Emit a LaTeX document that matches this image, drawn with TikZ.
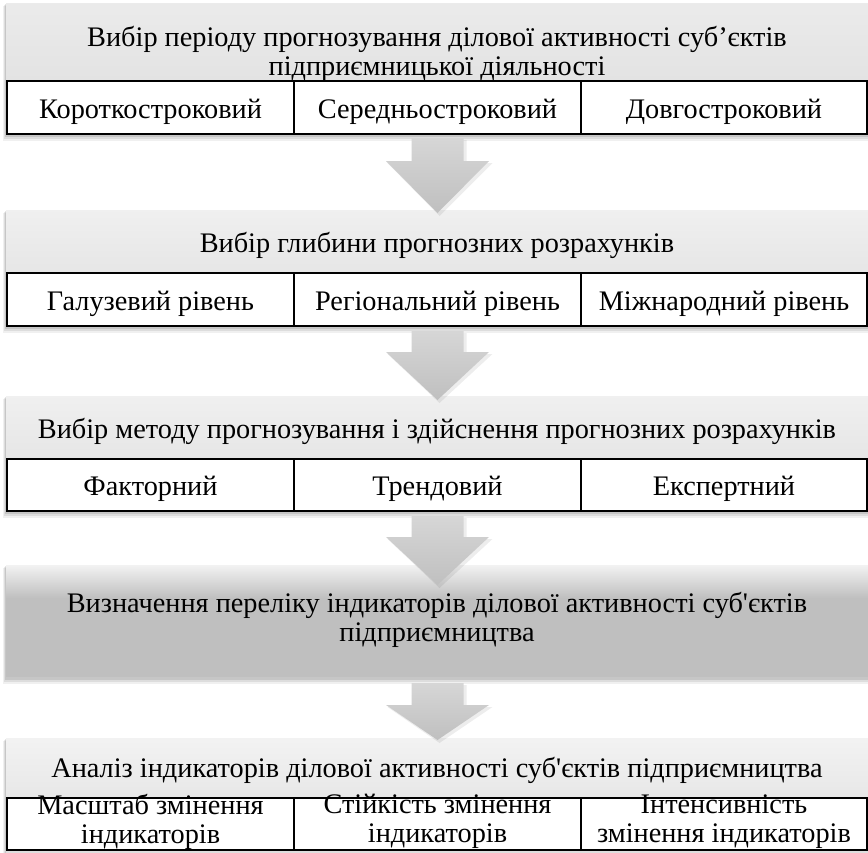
\documentclass[tikz,border=0pt]{standalone}
\usepackage{fontspec}
\setmainfont{Liberation Serif}[Ligatures=TeXOff]
\newcommand{\flowarrow}[4]{%
  \fill[black,opacity=.07] (#1-24,#2+2) -- (#1+29,#2+2) -- (#1+29,#3+2) -- (#1+55,#3+2) -- (#1+2,#4+3) -- (#1-50,#3+2) -- (#1-24,#3+2) -- cycle;
  \shade[top color=black!16,bottom color=black!25] (#1-26,#2) -- (#1+26,#2) -- (#1+26,#3) -- (#1+51.5,#3) -- (#1,#4) -- (#1-51.5,#3) -- (#1-26,#3) -- cycle;}
\newcommand{\bandshadow}[2]{%
  \fill[black,opacity=.06] (3,#1+3) rectangle (868,#2+7);
  \fill[black,opacity=.08] (4,#1+2) rectangle (868,#2+5);
  \fill[black,opacity=.10] (5,#1+1) rectangle (868,#2+3);}
\begin{document}
\begin{tikzpicture}[x=1pt,y=-1pt,
  txt/.style={font=\fontsize{28.3}{29}\selectfont, align=center, inner sep=0pt},
  cellbox/.style={draw=black, line width=1.4pt, fill=white, inner sep=0pt, align=center,
    text height=21pt, text depth=0pt, font=\fontsize{28.3}{29}\selectfont}]
\useasboundingbox (0,0) rectangle (868,852);
\fill[white] (0,0) rectangle (868,852);

% ---------- band 1
\bandshadow{3}{134}
\shade[top color=black!8,bottom color=black!13] (6,3) rectangle (868,134);
\node[txt] (t1) at (437,54) {Вибір періоду прогнозування ділової активності суб’єктів\\підприємницької діяльності};
\node[cellbox, minimum width=287pt, minimum height=53pt] (c11) at (150.5,107.5) {Короткостроковий};
\node[cellbox, minimum width=287pt, minimum height=53pt] (c12) at (437.5,107.5) {Середньостроковий};
\node[cellbox, minimum width=286pt, minimum height=53pt] (c13) at (724,107.5) {Довгостроковий};

% ---------- band 2
\bandshadow{210}{326}
\shade[top color=black!6,bottom color=black!13] (6,210) rectangle (868,326);
\node[txt, anchor=base] (t2) at (437,252) {Вибір глибини прогнозних розрахунків};
\node[cellbox, minimum width=287pt, minimum height=53pt] (c21) at (150.5,299.5) {Галузевий рівень};
\node[cellbox, minimum width=287pt, minimum height=53pt] (c22) at (437.5,299.5) {Регіональний рівень};
\node[cellbox, minimum width=286pt, minimum height=53pt] (c23) at (724,299.5) {Міжнародний рівень};

% ---------- band 3
\bandshadow{396}{511}
\shade[top color=black!6,bottom color=black!13] (6,396) rectangle (868,511);
\node[txt, anchor=base] (t3) at (437,438) {Вибір методу прогнозування і здійснення прогнозних розрахунків};
\node[cellbox, minimum width=287pt, minimum height=52pt] (c31) at (150.5,485) {Факторний};
\node[cellbox, minimum width=287pt, minimum height=52pt] (c32) at (437.5,485) {Трендовий};
\node[cellbox, minimum width=286pt, minimum height=52pt] (c33) at (724,485) {Експертний};

% ---------- band 4
\bandshadow{565}{677}
\shade[top color=black!5,bottom color=black!25] (6,565) rectangle (868,598);
\fill[black!25] (6,597.5) rectangle (868,677);
\node[txt] (t4) at (437,620) {Визначення переліку індикаторів ділової активності суб'єктів\\підприємництва};

% ---------- band 5
\bandshadow{738}{852}
\shade[top color=black!5,bottom color=black!13] (6,738) rectangle (868,852);
\node[txt, anchor=base] (t5) at (437,777) {Аналіз індикаторів ділової активності суб'єктів підприємництва};
\node[cellbox, minimum width=287pt, minimum height=52pt] (c51) at (150.5,824) {};
\node[cellbox, minimum width=287pt, minimum height=52pt] (c52) at (437.5,824) {};
\node[cellbox, minimum width=286pt, minimum height=52pt] (c53) at (724,824) {};
\node[txt] (c51t) at (c51.center) [yshift=2.5pt] {Масштаб змінення\\індикаторів};
\node[txt] (c52t) at (c52.center) [yshift=2.5pt] {Стійкість змінення\\індикаторів};
\node[txt] (c53t) at (c53.center) [yshift=2.5pt] {Інтенсивність\\змінення індикаторів};

% ---------- arrows
\flowarrow{437.5}{138}{161}{213}
\flowarrow{437.5}{331}{352}{400}
\flowarrow{437.5}{516}{537}{585}
\flowarrow{437.5}{683}{705}{740}
\end{tikzpicture}
\end{document}
